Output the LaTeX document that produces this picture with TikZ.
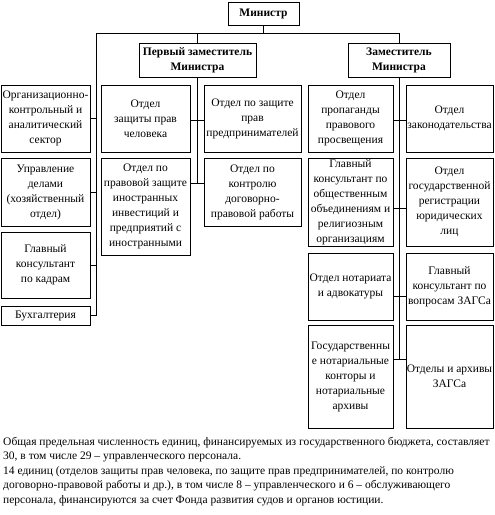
\documentclass[tikz,border=0pt]{standalone}
\usepackage{fontspec}
\setmainfont{Liberation Serif}
\begin{document}
\begin{tikzpicture}[x=1pt,y=-1pt,
  box/.style={draw, line width=0.8pt, inner sep=0pt, align=center,
    font=\fontsize{11.5}{15}\selectfont},
  head/.style={box, font=\bfseries\fontsize{11.5}{15}\selectfont},
  conn/.style={line width=0.8pt},
  note/.style={inner sep=0pt, align=left, anchor=north west,
    font=\fontsize{11.5}{14.5}\selectfont}]
\useasboundingbox (0,0) rectangle (495,515);
% top level
\node[head, minimum width=71pt, minimum height=23pt] (min) at (263.5,13.5) {Министр};
\node[head, minimum width=117pt, minimum height=34pt] (fd) at (197.5,60) {Первый заместитель\\Министра};
\node[head, minimum width=102pt, minimum height=34pt] (dep) at (399,60) {Заместитель\\Министра};
% left column
\node[box, minimum width=89pt, minimum height=67pt] (L1) at (45.5,118.5) {Организационно-\\контрольный и\\аналитический\\сектор};
\node[box, minimum width=89pt, minimum height=68pt] (L2) at (45.5,192) {Управление\\делами\\(хозяйственный\\отдел)};
\node[box, minimum width=89pt, minimum height=66pt] (L3) at (45.5,265) {Главный\\консультант\\по кадрам};
\node[box, minimum width=89pt, minimum height=19pt] (L4) at (45.5,315.5) {Бухгалтерия};
% first deputy children
\node[box, minimum width=89pt, minimum height=67pt] (A) at (145.5,118.5) {Отдел\\защиты прав\\человека};
\node[box, minimum width=89pt, minimum height=97pt] (B) at (145.5,206.5) {Отдел по\\правовой защите\\иностранных\\инвестиций и\\предприятий с\\иностранными};
\node[box, minimum width=97pt, minimum height=67pt] (C) at (252.5,118.5) {Отдел по защите\\прав\\предпринимателей};
\node[box, minimum width=97pt, minimum height=68pt] (D) at (252.5,192) {Отдел по\\контролю\\договорно-\\правовой работы};
% deputy children
\node[box, minimum width=85pt, minimum height=67pt] (P1) at (350.5,118.5) {Отдел\\пропаганды\\правового\\просвещения};
\node[box, minimum width=85pt, minimum height=88pt] (P2) at (350.5,202) {Главный\\консультант по\\общественным\\объединениям и\\религиозным\\организациям};
\node[box, minimum width=85pt, minimum height=67pt] (P3) at (350.5,286.5) {Отдел нотариата\\и адвокатуры};
\node[box, minimum width=85pt, minimum height=103pt] (P4) at (350.5,376.5) {Государственны\\е нотариальные\\конторы и\\нотариальные\\архивы};
\node[box, minimum width=87pt, minimum height=67pt] (Q1) at (449.5,118.5) {Отдел\\законодательства};
\node[box, minimum width=87pt, minimum height=88pt] (Q2) at (449.5,202) {Отдел\\государственной\\регистрации\\юридических\\лиц};
\node[box, minimum width=87pt, minimum height=67pt] (Q3) at (449.5,286.5) {Главный\\консультант по\\вопросам ЗАГСа};
\node[box, minimum width=87pt, minimum height=103pt] (Q4) at (449.5,376.5) {Отделы и архивы\\ЗАГСа};
% junction coordinates
\coordinate (jL) at (96,33);
\coordinate (jR) at (399,33);
\coordinate (lend) at (96,316);
\coordinate (f2) at (197,183);
\coordinate (r1) at (399,120);
\coordinate (r2) at (399,208);
\coordinate (r3) at (399,296);
\coordinate (r4) at (399,359);
% connectors
\draw[conn] (min.south) -- (min.south |- jL);
\draw[conn] (jL) -- (jR);
\draw[conn] (fd.north |- jL) -- (fd.north);
\draw[conn] (jR) -- (dep.north);
\draw[conn] (jL) -- (lend);
\draw[conn] (L1.east) -- (L1.east -| jL);
\draw[conn] (L2.east) -- (L2.east -| jL);
\draw[conn] (L3.east) -- (L3.east -| jL);
\draw[conn] (L4.east) -- (L4.east -| jL);
\draw[conn] (fd.south) -- (fd.south |- f2);
\draw[conn] (A.east |- r1) -- (C.west |- r1);
\draw[conn] (B.east |- f2) -- (D.west |- f2);
\draw[conn] (dep.south) -- (r4);
\draw[conn] (P1.east |- r1) -- (Q1.west |- r1);
\draw[conn] (P2.east |- r2) -- (Q2.west |- r2);
\draw[conn] (P3.east |- r3) -- (Q3.west |- r3);
\draw[conn] (P4.east |- r4) -- (Q4.west |- r4);
% note
\node[note] (txt) at (3,437) {Общая предельная численность единиц, финансируемых из государственного бюджета, составляет\\30, в том числе 29 – управленческого персонала.\\14 единиц (отделов защиты прав человека, по защите прав предпринимателей, по контролю\\договорно-правовой работы и др.), в том числе 8 – управленческого и 6 – обслуживающего\\персонала, финансируются за счет Фонда развития судов и органов юстиции.};
\end{tikzpicture}
\end{document}
